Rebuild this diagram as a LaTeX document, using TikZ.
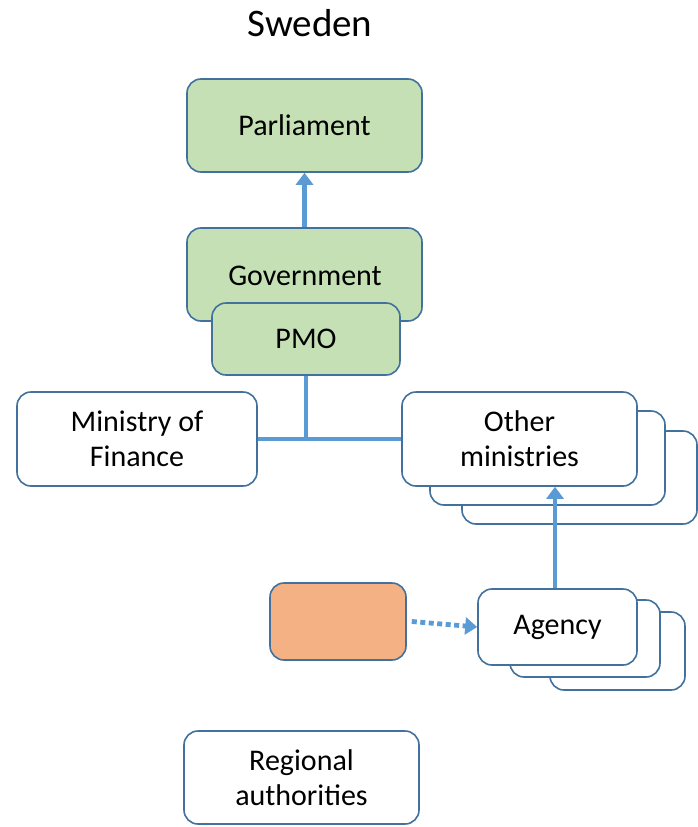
\documentclass[tikz,border=0pt]{standalone}
\usepackage{fontspec}
\setmainfont{Carlito}
\usepackage{tikz}
\definecolor{boxline}{HTML}{41719C}
\definecolor{linkblue}{HTML}{5B9BD5}
\definecolor{green200}{HTML}{C5E0B4}
\definecolor{orange200}{HTML}{F4B183}
\usetikzlibrary{arrows.meta}
\tikzstyle{caixa}=[draw=boxline, line width=1.6pt, rounded corners=14pt, fill=white, align=center, inner sep=0pt, font=\fontsize{30}{35}\selectfont]
\tikzstyle{verde}=[caixa, fill=green200]
\tikzstyle{elo}=[draw=linkblue, line width=4.8pt]
\tikzstyle{seta}=[elo, -{Triangle[length=12pt,width=17pt]}]

\begin{document}
\begin{tikzpicture}[x=1pt,y=-1pt]
				\useasboundingbox (0,0) rectangle (697,827);
				\node[font=\fontsize{39}{45}\selectfont] (titulo) at (310,23) {Sweden};
				\node[verde, minimum width=235pt, minimum height=93pt] (parl) at (304.5,125.5) {Parliament};
				\node[verde, minimum width=235pt, minimum height=93pt] (gov) at (304.5,274.5) {};
				\node[font=\fontsize{30}{35}\selectfont] (govtxt) at (305,276) {Government};
				\node[verde, minimum width=188pt, minimum height=72pt] (pmo) at (306,339) {PMO};
				\node[caixa, minimum width=240pt, minimum height=94pt] (fin) at (137,439) {Ministry of\\Finance};
				\node[caixa, minimum width=235pt, minimum height=93pt] (om3) at (579.5,477.5) {};
				\node[caixa, minimum width=235pt, minimum height=94pt] (om2) at (547.5,458) {};
				\node[caixa, minimum width=235pt, minimum height=94pt] (om1) at (519.5,439) {Other\\ministries};
				\node[caixa, fill=orange200, minimum width=136pt, minimum height=77pt] (fonte) at (338,621.5) {};
				\node[caixa, minimum width=135pt, minimum height=78pt] (ag3) at (617.5,651) {};
				\node[caixa, minimum width=150pt, minimum height=77pt] (ag2) at (585,638.5) {};
				\node[caixa, minimum width=159pt, minimum height=76pt] (ag1) at (557.5,627) {Agency};
				\node[caixa, minimum width=235pt, minimum height=93pt] (reg) at (301.5,777.5) {Regional\\authorities};
				\coordinate (junta) at (pmo.south |- fin.east);
				\coordinate (base) at ([xshift=-2.5pt]ag1.north);
				\coordinate (topo) at (base |- om1.south);
				\draw[seta] (gov.north) -- (parl.south);
				\draw[elo] (pmo.south) -- (junta);
				\draw[elo] (fin.east) -- (fin.east -| om1.west);
				\draw[seta] (base) -- (topo);
				\draw[seta, dash pattern=on 5pt off 3.5pt] ([xshift=5pt]fonte.east) -- (ag1.west);
			\end{tikzpicture}
\end{document}
